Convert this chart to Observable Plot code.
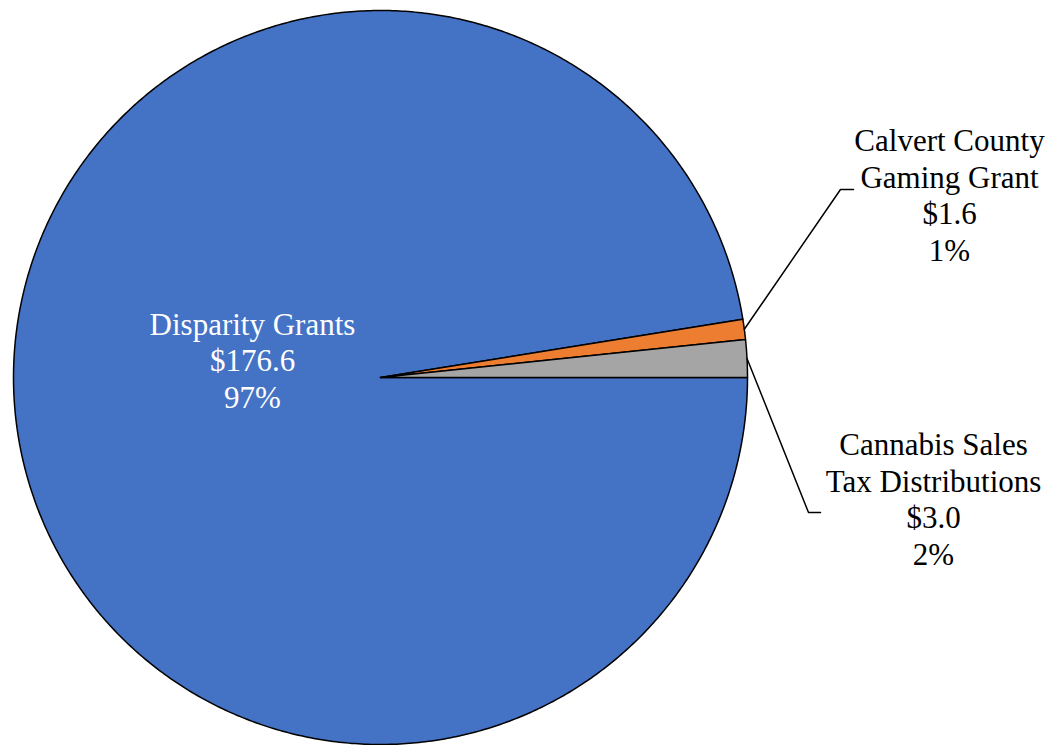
<!DOCTYPE html>
<html>
<head>
<meta charset="utf-8">
<script src="https://cdn.jsdelivr.net/npm/d3@7"></script>
<script src="https://cdn.jsdelivr.net/npm/@observablehq/plot@0.6"></script>
<style>
  html, body { margin: 0; padding: 0; background: #ffffff; }
  #chart svg { display: block; }
</style>
</head>
<body>
<div id="chart"></div>
<script>
// ---- data ----
const categories = ["Disparity Grants", "Calvert County Gaming Grant", "Cannabis Sales Tax Distributions"];
const labelNames = ["Disparity Grants", "Calvert County\nGaming Grant", "Cannabis Sales\nTax Distributions"];
const values = [176.6, 1.6, 3.0];
const percents = ["97%", "1%", "2%"];
const colors = ["#4472C4", "#ED7D31", "#A5A5A5"];

// ---- layout (pixels) ----
const W = 1059, H = 745;
const CX = 380, CY = 377, R = 367;
const labelPos = [ [252, 359], [949, 194], [933, 498] ];       // label block centres
const labelColor = ["#ffffff", "#000000", "#000000"];
const elbows = [null, [[840, 189], [853, 189]], [[808, 512], [820, 512]]];

const toX = px => (px - CX) / R;
const toY = py => (CY - py) / R;

// ---- slices: clockwise from 3 o'clock ----
const total = d3.sum(values);
let acc = 0;
const slices = values.map((v, i) => {
  const a0 = acc / total * 2 * Math.PI;
  acc += v;
  const a1 = acc / total * 2 * Math.PI;
  return {i, a0, a1, mid: (a0 + a1) / 2};
});
const polyPts = [];
for (const s of slices) {
  const n = Math.max(4, Math.ceil((s.a1 - s.a0) / (Math.PI / 360)));
  polyPts.push({cat: categories[s.i], x: 0, y: 0});
  for (let k = 0; k <= n; k++) {
    const a = s.a0 + (s.a1 - s.a0) * k / n;
    polyPts.push({cat: categories[s.i], x: Math.cos(-a), y: Math.sin(-a)});
  }
  polyPts.push({cat: categories[s.i], x: 0, y: 0});
}

// leader lines
const leaders = [];
slices.forEach(s => {
  const e = elbows[s.i];
  if (!e) return;
  leaders.push({k: s.i, x: Math.cos(-s.mid), y: Math.sin(-s.mid)});
  e.forEach(p => leaders.push({k: s.i, x: toX(p[0]), y: toY(p[1])}));
});

const labels = categories.map((c, i) => ({
  text: `${labelNames[i]}\n$${values[i].toFixed(1)}\n${percents[i]}`,
  x: toX(labelPos[i][0]), y: toY(labelPos[i][1]), color: labelColor[i]
}));

const chart = Plot.plot({
  width: W, height: H,
  margin: 0,
  style: {background: "#ffffff"},
  x: {domain: [toX(0), toX(W)], axis: null},
  y: {domain: [toY(H), toY(0)], axis: null},
  color: {domain: categories, range: colors},
  marks: [
    Plot.line(polyPts, {x: "x", y: "y", z: "cat", fill: "cat", stroke: "#000000", strokeWidth: 1.5, strokeLinejoin: "round"}),
    Plot.line(leaders, {x: "x", y: "y", z: "k", stroke: "#000000", strokeWidth: 1.5}),
    Plot.text(labels, {x: "x", y: "y", text: "text", fill: d => d.color, fontSize: 31, lineHeight: 1.18,
      fontFamily: "'Liberation Serif', 'Times New Roman', serif", textAnchor: "middle", lineAnchor: "middle"})
  ]
});
document.getElementById("chart").appendChild(chart);
</script>
</body>
</html>
